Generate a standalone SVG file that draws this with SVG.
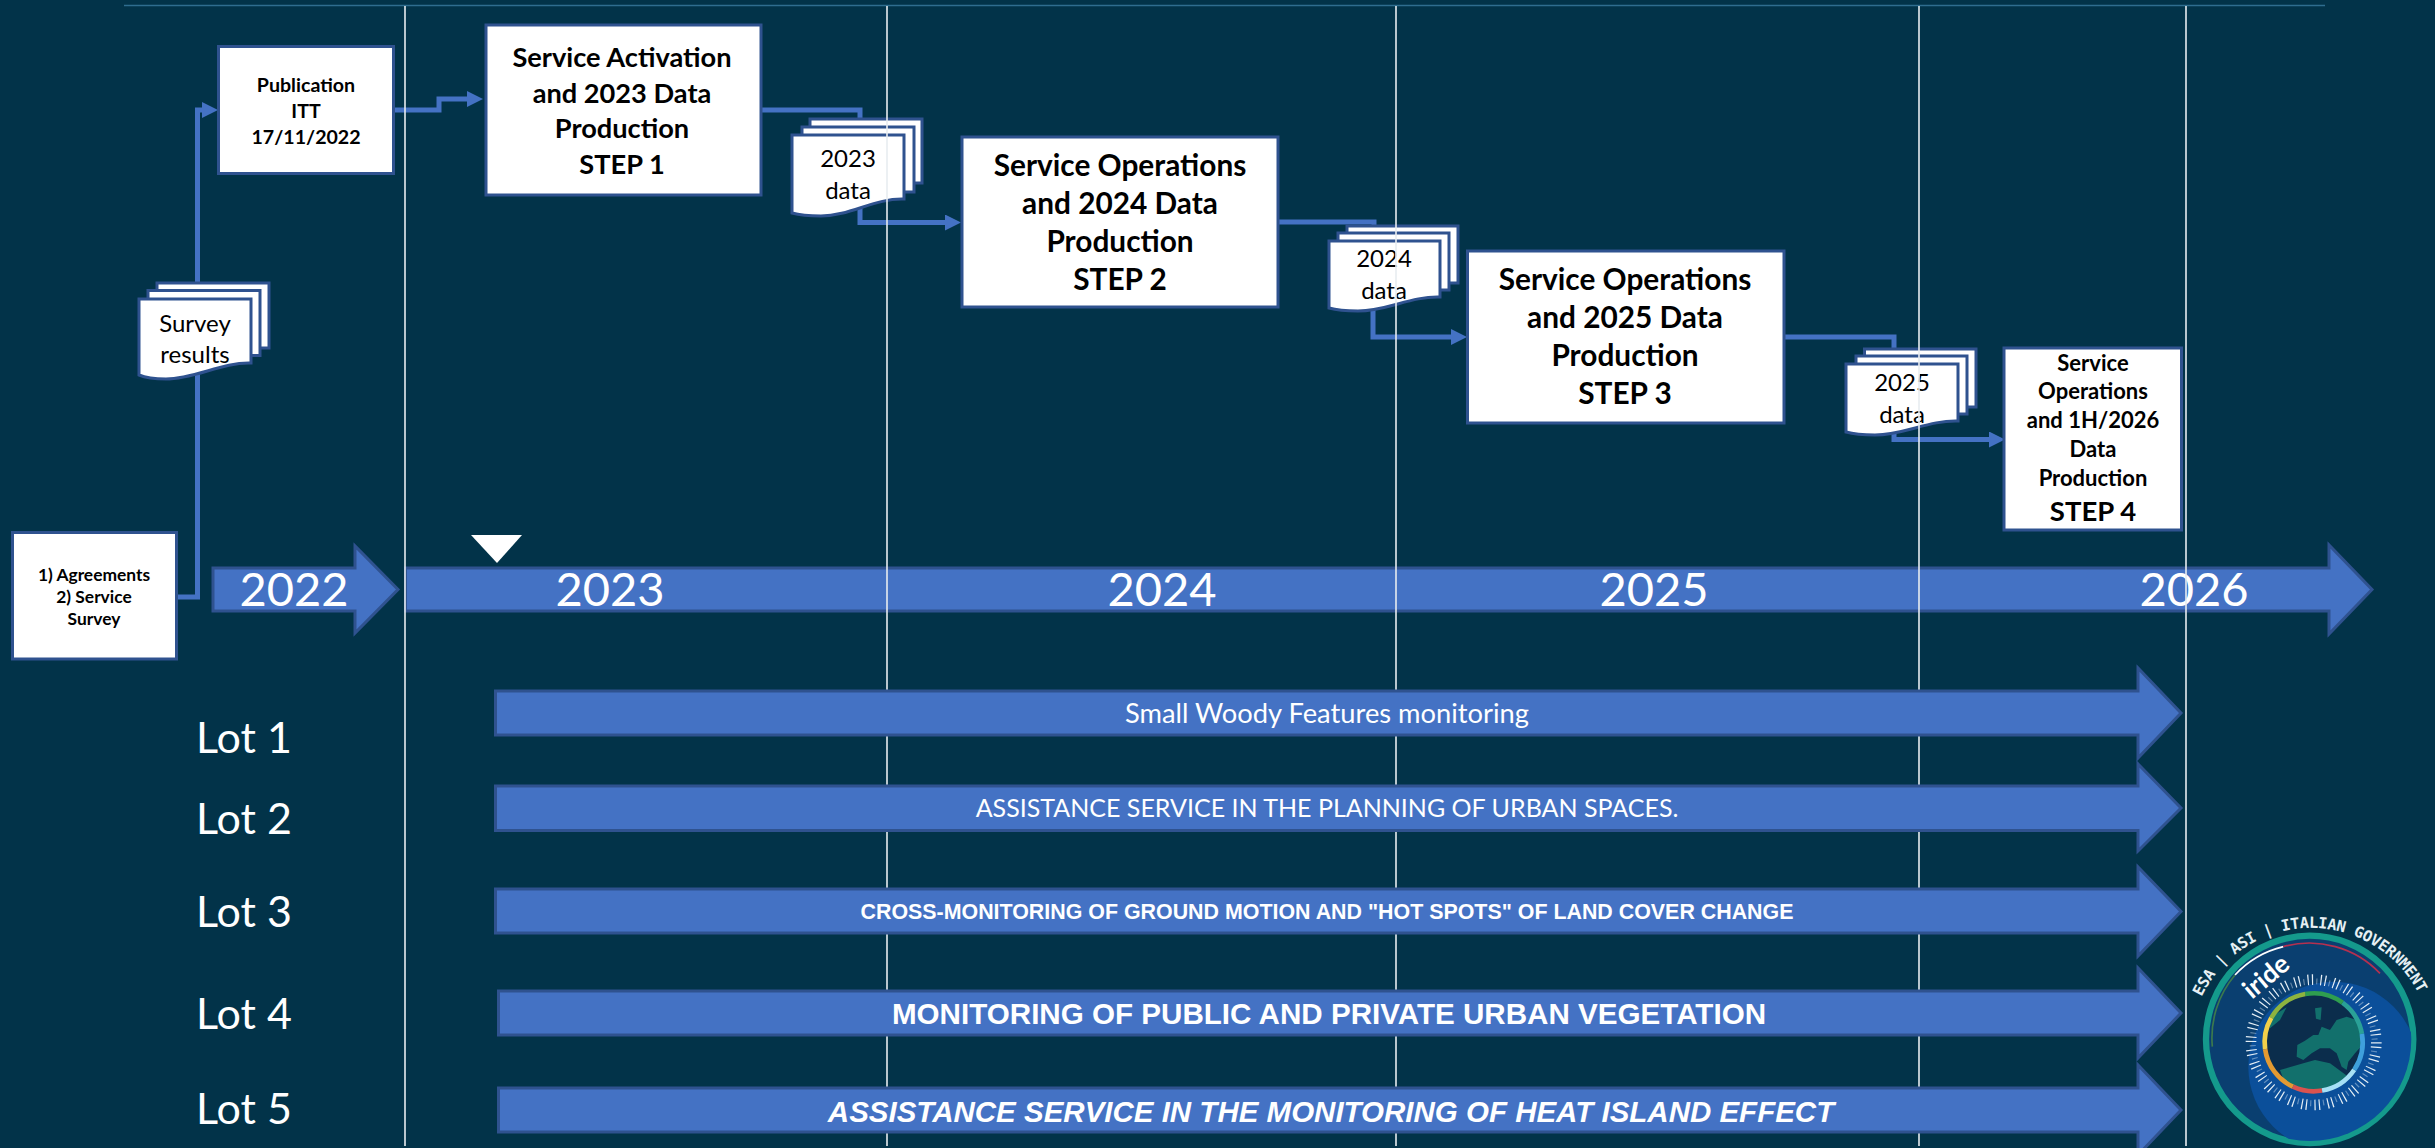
<svg xmlns="http://www.w3.org/2000/svg" width="2435" height="1148" viewBox="0 0 2435 1148">
<style>
.box{fill:#fff;stroke:#2f528f;stroke-width:3}
.page{fill:#fff;stroke:#2f528f;stroke-width:3}
.conn{fill:none;stroke:#4472c4;stroke-width:5}
.bar{fill:#4472c4;stroke:#2f528f;stroke-width:3}
.vl{stroke:#e8edf0;stroke-width:1.6}
text{font-family:"Lato","Liberation Sans",sans-serif;text-anchor:middle}
.b{font-weight:700;fill:#000}
.doc{fill:#000;font-size:24px}
.yr{fill:#fff;font-size:47px}
.lot{fill:#fff;font-size:43px;text-anchor:start}
.lt{fill:#fff;font-size:25px}
.ar{font-family:"Liberation Sans",Arial,sans-serif;font-weight:700;fill:#fff}
.tick{fill:none;stroke:#e4eef5}
</style>
<defs>
<marker id="ah" markerUnits="userSpaceOnUse" markerWidth="17" markerHeight="17" refX="0" refY="8" orient="auto"><path d="M0 0L16 8L0 16Z" fill="#4472c4"/></marker>
<clipPath id="disc"><circle cx="524" cy="538" r="305"/></clipPath>
<clipPath id="globe"><circle cx="371" cy="367" r="146"/></clipPath>
</defs>
<rect width="2435" height="1148" fill="#023349"/>
<line x1="124" y1="5.500" x2="2325" y2="5.500" stroke="#2f6d8f" stroke-width="1.600"/>
<g id="timeline">
<path class="bar" d="M213 568H355V546L398 589.500L355 633V611H213Z"/>
<path class="bar" d="M405.500 568H2329V545L2372 589.500L2329 634V611H405.500Z"/>
<text class="yr" x="294" y="606">2022</text>
<text class="yr" x="610" y="606">2023</text>
<text class="yr" x="1162" y="606">2024</text>
<text class="yr" x="1654" y="606">2025</text>
<text class="yr" x="2194" y="606">2026</text>
<path d="M471 535H522L497 563Z" fill="#fff"/>
</g>
<g id="connectors">
<path class="conn" d="M176 597H197.500V110H202" marker-end="url(#ah)"/>
<path class="conn" d="M393 110H439V99H467" marker-end="url(#ah)"/>
<path class="conn" d="M761 110H860V125"/>
<path class="conn" d="M860 205V222.500H945" marker-end="url(#ah)"/>
<path class="conn" d="M1278 222H1374V232"/>
<path class="conn" d="M1373 305V337H1451" marker-end="url(#ah)"/>
<path class="conn" d="M1784 337H1894V355"/>
<path class="conn" d="M1894 430V439.500H1989" marker-end="url(#ah)"/>
</g>
<g id="agreements">
<rect class="box" x="12.500" y="532.500" width="164" height="126.500"/>
<text class="b" font-size="17.400" x="94" y="581">1) Agreements</text>
<text class="b" font-size="17.400" x="94" y="603">2) Service</text>
<text class="b" font-size="17.400" x="94" y="625">Survey</text>
</g>
<g id="survey-results">
<rect class="page" x="157" y="283" width="112" height="65"/>
<rect class="page" x="148" y="290.500" width="112" height="65"/>
<path class="page" d="M139 299H251V363C222 362 195 379 166 379C156 379 146 378 139 375Z"/>
<text class="doc" x="195" y="332">Survey</text>
<text class="doc" x="195" y="363">results</text>
</g>
<g id="publication">
<rect class="box" x="218.500" y="46.500" width="175" height="127"/>
<text class="b" font-size="19.600" x="306" y="92">Publication</text>
<text class="b" font-size="19.600" x="306" y="118">ITT</text>
<text class="b" font-size="19.600" x="306" y="144">17/11/2022</text>
</g>
<g id="step1">
<rect class="box" x="486" y="25" width="275" height="170"/>
<text class="b" font-size="27.200" x="622" y="67">Service Activation</text>
<text class="b" font-size="27.200" x="622" y="103">and 2023 Data</text>
<text class="b" font-size="27.200" x="622" y="138">Production</text>
<text class="b" font-size="27.200" x="622" y="173.500">STEP 1</text>
</g>
<g id="data-2023">
<rect class="page" x="810" y="119" width="112" height="64"/>
<rect class="page" x="802" y="127" width="112" height="65"/>
<path class="page" d="M792 135H904V199C875 198 850 216 821 216C811 216 799 215 792 213Z"/>
<text class="doc" x="848" y="167">2023</text>
<text class="doc" x="848" y="199">data</text>
</g>
<g id="step2">
<rect class="box" x="962" y="137" width="316" height="170"/>
<text class="b" font-size="29.800" x="1120" y="176">Service Operations</text>
<text class="b" font-size="29.800" x="1120" y="214">and 2024 Data</text>
<text class="b" font-size="29.800" x="1120" y="252">Production</text>
<text class="b" font-size="29.800" x="1120" y="290">STEP 2</text>
</g>
<g id="data-2024">
<rect class="page" x="1347" y="226" width="111" height="57"/>
<rect class="page" x="1338" y="233" width="111" height="57"/>
<path class="page" d="M1329 241H1440V297C1411 296 1387 311 1358 311C1348 311 1336 310 1329 308Z"/>
<text class="doc" x="1384" y="267">2024</text>
<text class="doc" x="1384" y="299">data</text>
</g>
<g id="step3">
<rect class="box" x="1467.500" y="251" width="316.500" height="172"/>
<text class="b" font-size="29.800" x="1625" y="290">Service Operations</text>
<text class="b" font-size="29.800" x="1625" y="328">and 2025 Data</text>
<text class="b" font-size="29.800" x="1625" y="366">Production</text>
<text class="b" font-size="29.800" x="1625" y="404">STEP 3</text>
</g>
<g id="data-2025">
<rect class="page" x="1864.500" y="349" width="111.500" height="58"/>
<rect class="page" x="1856" y="356" width="111" height="58"/>
<path class="page" d="M1846 364H1958V421C1929 420 1904 435 1875 435C1865 435 1853 434 1846 432Z"/>
<text class="doc" x="1902" y="391">2025</text>
<text class="doc" x="1902" y="423">data</text>
</g>
<g id="step4">
<rect class="box" x="2004" y="348" width="177.500" height="182"/>
<text class="b" font-size="22" x="2093" y="371">Service</text>
<text class="b" font-size="22" x="2093" y="399">Operations</text>
<text class="b" font-size="22" x="2093" y="428">and 1H/2026</text>
<text class="b" font-size="22" x="2093" y="457">Data</text>
<text class="b" font-size="22" x="2093" y="485.700">Production</text>
<text class="b" font-size="27.500" x="2093" y="520.700">STEP 4</text>
</g>
<g id="gridlines">
<line class="vl" x1="405" y1="6" x2="405" y2="1146"/>
<line class="vl" x1="887" y1="6" x2="887" y2="1146"/>
<line class="vl" x1="1396" y1="6" x2="1396" y2="1146"/>
<line class="vl" x1="1919" y1="6" x2="1919" y2="1146"/>
<line class="vl" x1="2186" y1="6" x2="2186" y2="1146"/>
</g>
<g id="lot1">
<path class="bar" d="M495.500 691H2138V668L2181 713L2138 758V735H495.500Z"/>
<text class="lt" style="font-size:27.300px" x="1327" y="723">Small Woody Features monitoring</text>
<text class="lot" x="196" y="753">Lot 1</text>
</g>
<g id="lot2">
<path class="bar" d="M495.500 786H2138V764L2181 808L2138 851V830.500H495.500Z"/>
<text class="lt" x="1327" y="817">ASSISTANCE SERVICE IN THE PLANNING OF URBAN SPACES.</text>
<text class="lot" x="196" y="834">Lot 2</text>
</g>
<g id="lot3">
<path class="bar" d="M495.500 889H2138V867L2181 911.500L2138 956V933H495.500Z"/>
<text class="ar" font-size="21.400" x="1327" y="919">CROSS-MONITORING OF GROUND MOTION AND "HOT SPOTS" OF LAND COVER CHANGE</text>
<text class="lot" x="196" y="927">Lot 3</text>
</g>
<g id="lot4">
<path class="bar" d="M498.500 991H2138V968L2181 1013L2138 1058V1035H498.500Z"/>
<text class="ar" font-size="29.600" x="1329" y="1024">MONITORING OF PUBLIC AND PRIVATE URBAN VEGETATION</text>
<text class="lot" x="196" y="1029">Lot 4</text>
</g>
<g id="lot5">
<path class="bar" d="M498.500 1088H2138V1065L2181 1110L2138 1155V1132H498.500Z"/>
<text class="ar" font-size="29.500" font-style="italic" x="1331" y="1122">ASSISTANCE SERVICE IN THE MONITORING OF HEAT ISLAND EFFECT</text>
<text class="lot" x="196" y="1124">Lot 5</text>
</g>
<g id="logo" transform="translate(2135 860) scale(.3333)">
<circle cx="524" cy="538" r="311" fill="#0a3f70" stroke="#149a8c" stroke-width="19"/>
<circle cx="595" cy="620" r="255" fill="#0b4f9a" clip-path="url(#disc)"/>
<path d="M300 345A292 292 0 0 1 445 260" fill="none" stroke="#fff" stroke-width="5"/>
<path d="M445 260A292 292 0 0 1 735 340" fill="none" stroke="#b5304f" stroke-width="5"/>
<path d="M300 345A292 292 0 0 0 232 560" fill="none" stroke="#3c7a4d" stroke-width="5"/>
<g transform="translate(165 180)">
<circle cx="371" cy="367" r="146" fill="#0b2d4c"/>
<g clip-path="url(#globe)" fill="#12706c">
<path d="M322 375L345 362L370 345L385 345L395 320L420 330L440 300L470 290L500 300L530 360L495 400L475 425L470 450L455 440L440 400L420 385L390 385L365 400L340 420L320 410Z"/>
<path d="M270 450L340 430L375 420L420 430L475 470L440 530L300 530Z"/>
<path d="M375 265L395 262L392 300L378 296Z"/>
<path d="M228 300L290 262L270 300L240 325Z"/>
</g>
</g>
<g fill="none" stroke-width="14">
<circle cx="536" cy="547" r="147" pathLength="360" stroke-dasharray="44 360" stroke="#2aa197" transform="rotate(-54 536 547)"/>
<circle cx="536" cy="547" r="147" pathLength="360" stroke-dasharray="46 360" stroke="#2f9e4f" transform="rotate(-100 536 547)"/>
<circle cx="536" cy="547" r="147" pathLength="360" stroke-dasharray="50 360" stroke="#8db33f" transform="rotate(-150 536 547)"/>
<circle cx="536" cy="547" r="147" pathLength="360" stroke-dasharray="38 360" stroke="#f2cf4a" transform="rotate(172 536 547)"/>
<circle cx="536" cy="547" r="147" pathLength="360" stroke-dasharray="57 360" stroke="#e39a32" transform="rotate(115 536 547)"/>
<circle cx="536" cy="547" r="147" pathLength="360" stroke-dasharray="35 360" stroke="#d9534f" transform="rotate(80 536 547)"/>
<circle cx="536" cy="547" r="147" pathLength="360" stroke-dasharray="46 360" stroke="#a6e0f5" transform="rotate(34 536 547)"/>
<circle cx="536" cy="547" r="147" pathLength="360" stroke-dasharray="44 360" stroke="#3fa0dc" transform="rotate(-10 536 547)"/>
</g>
<circle class="tick" cx="536" cy="547" r="188" stroke-width="32" pathLength="360" stroke-dasharray="1.100 10.900"/>
<circle class="tick" cx="536" cy="547" r="188" stroke-width="32" pathLength="360" stroke-dasharray="1.100 10.900" transform="rotate(4 536 547)"/>
<circle class="tick" cx="536" cy="547" r="183" stroke-width="18" pathLength="360" stroke-dasharray="1.100 10.900" opacity=".4" transform="rotate(8 536 547)"/>
<path id="logoarc" d="M200 410A364 364 0 0 1 856 410" fill="none"/>
<text font-weight="700" font-size="46" letter-spacing="-.9" fill="#e6f0f4" style="font-family:'DejaVu Sans Mono',monospace;text-anchor:start"><textPath href="#logoarc">ESA | ASI | ITALIAN GOVERNMENT</textPath></text>
<text font-size="78" font-weight="700" fill="#fff" transform="translate(410 370) rotate(-40)">iride</text>
</g>
</svg>
